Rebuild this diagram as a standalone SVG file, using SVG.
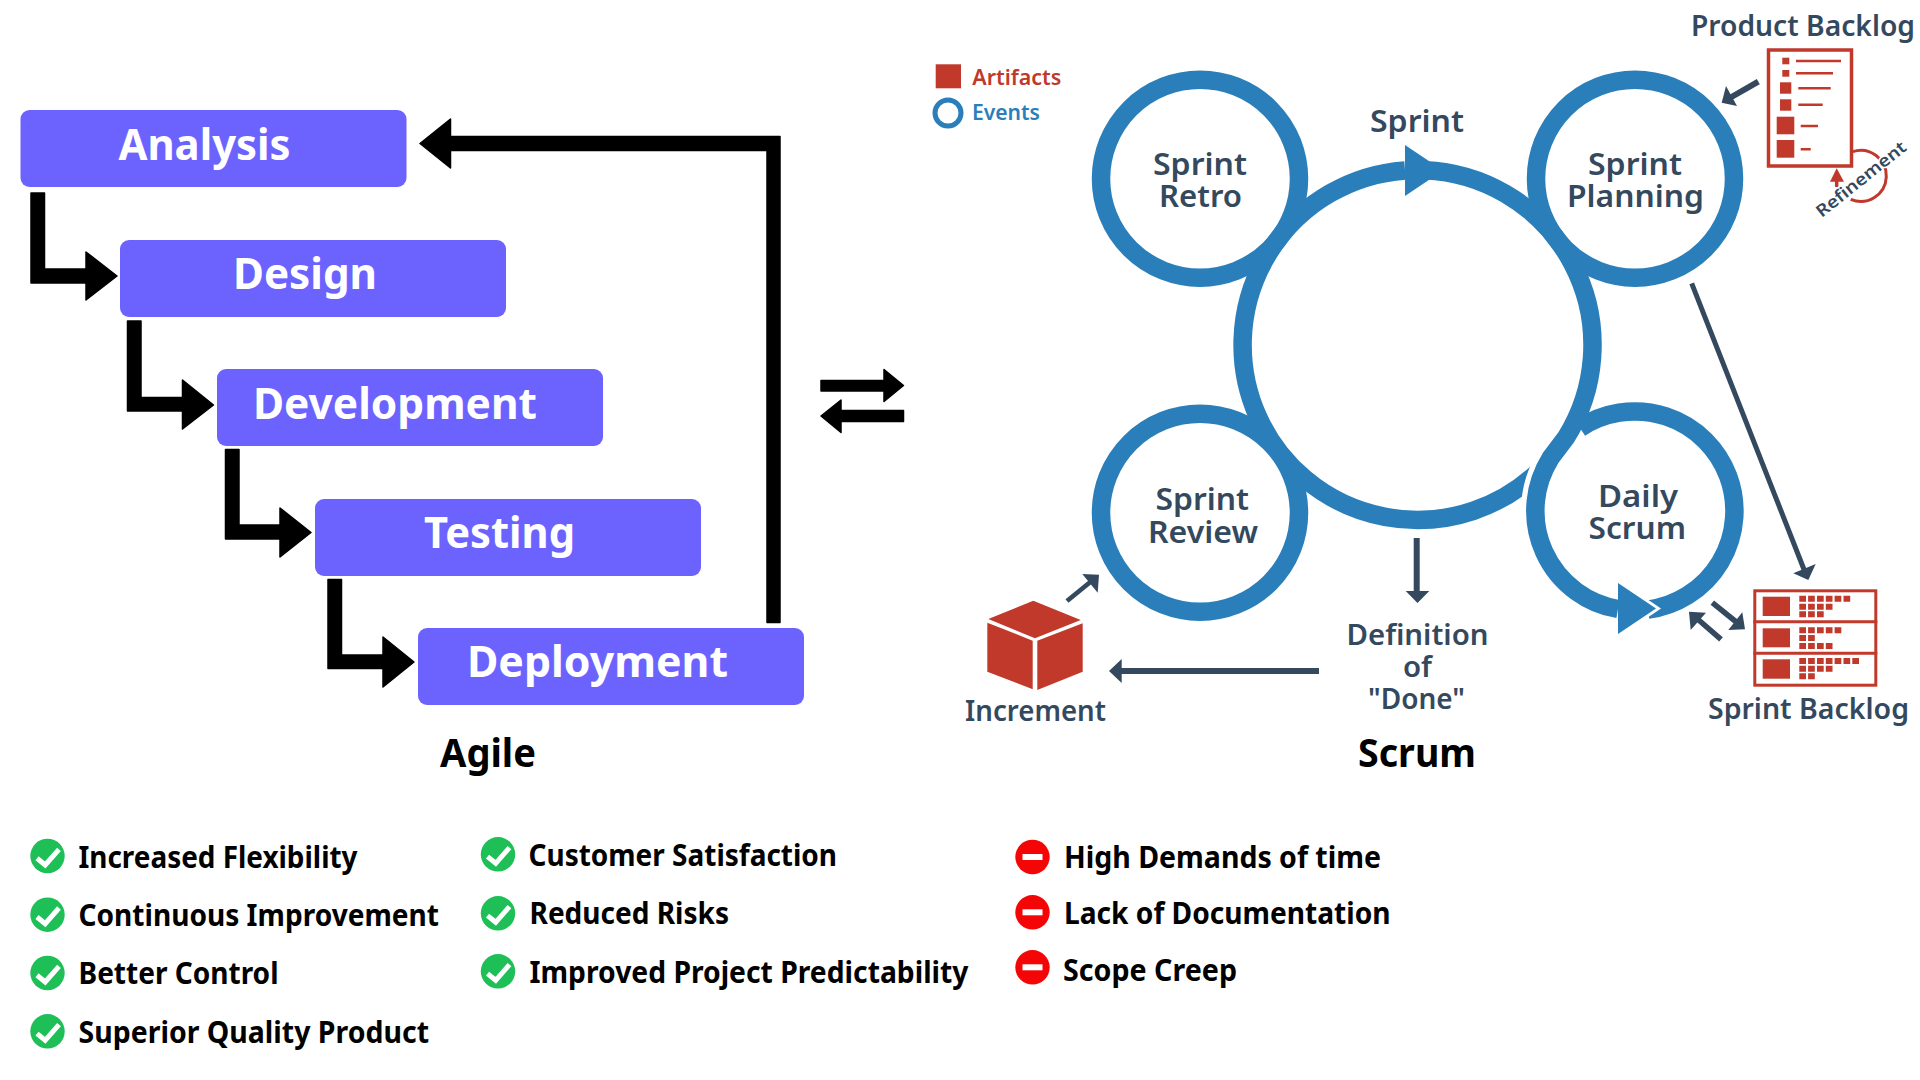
<svg xmlns="http://www.w3.org/2000/svg" xmlns:xlink="http://www.w3.org/1999/xlink" width="1920" height="1080" viewBox="0 0 1920 1080">
<style>
text{font-family:"Noto Sans","Open Sans","DejaVu Sans",sans-serif}
.box{fill:#6C63FF}
.bt{font-size:43px;font-weight:700;fill:#fff}
.ttl{font-size:40px;font-weight:700;fill:#000}
.li{font-size:30px;font-weight:700;fill:#000}
.sc{font-size:31px;font-weight:600;fill:#34495E}
.sm{font-size:28px;font-weight:600;fill:#34495E}
.ring{fill:none;stroke:#2A7FBA;stroke-width:18.5}
.cut{fill:none;stroke:#fff}
.blue{fill:#2A7FBA}
.blk{fill:#000;stroke:#000;stroke-width:1.5;stroke-linejoin:round}
.nv{stroke:#34495E;fill:none}
.nvh{fill:#34495E}
.red{fill:#C0392B}
.ol{fill:#fff;stroke:#C0392B}
.ln{stroke:#C0392B;stroke-width:2.5}
</style>
<defs>
<g id="ok"><circle r="17.2" fill="#1DBF56"/><path d="M-10.5,2.3 L-2.3,9 L11.5,-6.7" fill="none" stroke="#fff" stroke-width="5"/></g>
<g id="no"><circle r="17.2" fill="#F40606"/><rect x="-10" y="-3" width="20" height="6" fill="#fff"/></g>
</defs>
<rect width="1920" height="1080" fill="#fff"/>

<g id="connectors">
<path class="blk" d="M31,193H44.5V269H86V252L117,276L86,300V283H31Z"/>
<path class="blk" d="M127.5,321H141V397.5H182.5V380L213.5,405L182.5,429V411H127.5Z"/>
<path class="blk" d="M225.5,449.5H239V525H280V508L311,532.5L280,557V539H225.5Z"/>
<path class="blk" d="M328,579.5H341.5V655H383V637L414,662L383,687V668.5H328Z"/>
<path class="blk" d="M780,622.5H767V150.5H450.5V168L420,143.5L450.5,119V136.5H780Z"/>
<path class="blk" d="M821,380.5H884V369.5L903.5,385.5L884,401.5V391H821Z"/>
<path class="blk" d="M903.5,410.5H841V400L821,416L841,432.5V421.5H903.5Z"/>

<path class="ring" d="M1540,470A175,175 0 1 1 1405,170.4"/>
<path class="cut" stroke-width="12" d="M1542.7,455A108,108 0 0 0 1527,510"/>
<path class="cut" stroke-width="10" d="M1595,400A186,186 0 0 1 1574.3,445"/>
<path class="ring" d="M1648,609.6A99.5,99.5 0 1 0 1580,428"/>
<polygon points="1618,579.5 1661,608.5 1618,637.5" fill="#fff"/>
<polygon points="1405,141.5 1448,170.5 1405,199.5" fill="#fff"/>
<path class="ring" d="M1425,170.2A175,175 0 0 1 1566,437.6L1550.4,458.3A99.5,99.5 0 0 0 1618,609"/>
<polygon class="blue" points="1405,145 1443,170.5 1405,196"/>
<polygon class="blue" points="1618,583 1656,608.5 1618,634"/>

<path class="nv" stroke-width="4.7" d="M1067,601L1094,579"/>
<polygon class="nvh" points="1082.3,574 1099,574.7 1097.7,592.7"/>
<path class="nv" stroke-width="6" d="M1416.7,538V595"/>
<polygon class="nvh" points="1405.7,591 1429.3,591 1417.5,603"/>
<path class="nv" stroke-width="6" d="M1319,671H1118"/>
<polygon class="nvh" points="1121.7,659 1121.7,683 1109,671"/>
<path class="nv" stroke-width="6" d="M1758.3,81.7L1728,99"/>
<polygon class="nvh" points="1726,86 1737,106 1721.7,102.7"/>
<path class="nv" stroke-width="5" d="M1691.7,283.3L1805,572"/>
<polygon class="nvh" points="1793.3,573.3 1815.7,564 1808.3,580"/>
<path class="nv" stroke-width="5.5" d="M1712.3,602.7L1740,625"/>
<polygon class="nvh" points="1728.3,630 1742.3,612.3 1745,629.3"/>
<path class="nv" stroke-width="5.5" d="M1721,639.3L1694,616"/>
<polygon class="nvh" points="1706,612.7 1690.7,630 1689,611.7"/>
</g>

<g id="analysis"><rect class="box" x="20.5" y="110" width="386" height="77" rx="9"/><text class="bt" x="118.5" y="160" textLength="172" lengthAdjust="spacingAndGlyphs">Analysis</text></g>
<g id="design"><rect class="box" x="120" y="240" width="386" height="77" rx="9"/><text class="bt" x="233" y="289" textLength="144" lengthAdjust="spacingAndGlyphs">Design</text></g>
<g id="development"><rect class="box" x="217" y="369" width="386" height="77" rx="9"/><text class="bt" x="253" y="418.5" textLength="284" lengthAdjust="spacingAndGlyphs">Development</text></g>
<g id="testing"><rect class="box" x="315" y="499" width="386" height="77" rx="9"/><text class="bt" x="424" y="548" textLength="151" lengthAdjust="spacingAndGlyphs">Testing</text></g>
<g id="deployment"><rect class="box" x="418" y="628" width="386" height="77" rx="9"/><text class="bt" x="467" y="677" textLength="261" lengthAdjust="spacingAndGlyphs">Deployment</text></g>
<text id="agile-title" class="ttl" x="440" y="767" textLength="96" lengthAdjust="spacingAndGlyphs">Agile</text>
<text id="scrum-title" class="ttl" x="1358" y="767" textLength="118" lengthAdjust="spacingAndGlyphs">Scrum</text>

<g id="legend">
<rect class="red" x="935.7" y="64.3" width="25.3" height="24"/>
<text class="sm" style="fill:#C0392B;font-size:22px" x="972.3" y="85" textLength="89" lengthAdjust="spacingAndGlyphs">Artifacts</text>
<circle cx="948" cy="113" r="13" fill="none" stroke="#2A7FBA" stroke-width="5"/>
<text class="sm" style="fill:#2A7FBA;font-size:22px" x="972" y="120" textLength="68" lengthAdjust="spacingAndGlyphs">Events</text>
</g>

<g id="sprint-retro"><circle class="ring" cx="1200" cy="178.7" r="99"/><text class="sc" x="1153" y="175" textLength="94" lengthAdjust="spacingAndGlyphs">Sprint</text><text class="sc" x="1159" y="207" textLength="83" lengthAdjust="spacingAndGlyphs">Retro</text></g>
<g id="sprint-planning"><circle class="ring" cx="1635" cy="178.7" r="99"/><text class="sc" x="1588" y="175" textLength="94" lengthAdjust="spacingAndGlyphs">Sprint</text><text class="sc" x="1567" y="207" textLength="137" lengthAdjust="spacingAndGlyphs">Planning</text></g>
<g id="sprint-review"><circle class="ring" cx="1200" cy="512.7" r="99"/><text class="sc" x="1155.5" y="510" textLength="93.5" lengthAdjust="spacingAndGlyphs">Sprint</text><text class="sc" x="1148" y="542.7" textLength="110" lengthAdjust="spacingAndGlyphs">Review</text></g>
<g id="daily-scrum"><text class="sc" x="1598" y="507" textLength="80" lengthAdjust="spacingAndGlyphs">Daily</text><text class="sc" x="1588.5" y="539" textLength="97.5" lengthAdjust="spacingAndGlyphs">Scrum</text></g>
<text id="sprint-label" class="sc" x="1370" y="131.7" textLength="94" lengthAdjust="spacingAndGlyphs">Sprint</text>

<g id="product-backlog">
<text class="sm" x="1691" y="36" textLength="224" lengthAdjust="spacingAndGlyphs">Product Backlog</text>
<rect class="ol" x="1768.5" y="50" width="83" height="116" stroke-width="3.5"/>
<g class="red">
<rect x="1782.3" y="57.7" width="7" height="6.6"/><rect x="1782.3" y="70" width="7" height="6.7"/>
<rect x="1780" y="82.3" width="11.3" height="11.4"/><rect x="1780" y="99.3" width="11.3" height="11.4"/>
<rect x="1776.7" y="116.7" width="17.6" height="17.6"/><rect x="1776.7" y="140" width="17.6" height="17.7"/>
</g>
<path class="ln" d="M1796,61H1841M1796,73.3H1833M1798.3,88.3H1830.7M1798.3,104.7H1822.7M1800.7,126H1818M1800.7,149.3H1810.7"/>
<path d="M1852.7,151.7A25.5,25.5 0 1 1 1850.7,199.3" fill="none" stroke="#C0392B" stroke-width="3"/>
<path d="M1836.7,187V178" stroke="#C0392B" stroke-width="3.5"/>
<polygon class="red" points="1836.7,168.3 1844,181.7 1830,181.7"/>
<text class="sm" style="font-size:17px;stroke:#fff;stroke-width:3;paint-order:stroke" transform="translate(1821.7,218) rotate(-38.6)" textLength="110" lengthAdjust="spacingAndGlyphs">Refinement</text>
</g>

<g id="sprint-backlog">
<text class="sm" x="1708" y="719" textLength="201" lengthAdjust="spacingAndGlyphs">Sprint Backlog</text>
<rect class="ol" x="1754.8" y="590.8" width="121" height="94.4" stroke-width="3"/>
<path d="M1753.3,621.7H1877.3M1753.3,653.3H1877.3" stroke="#C0392B" stroke-width="3"/>
<g class="red">
<rect x="1762.7" y="596.7" width="27.3" height="19.3"/><rect x="1762.7" y="628.3" width="27.3" height="19"/><rect x="1762.7" y="659.3" width="27.3" height="19.4"/>
<path d="M1799.3,595.7h6.7v6h-6.7zM1808.1,595.7h6.7v6h-6.7zM1817,595.7h6.7v6h-6.7zM1825.8,595.7h6.7v6h-6.7zM1834.6,595.7h6.7v6h-6.7zM1843.5,595.7h6.7v6h-6.7z
M1799.3,603.7h6.7v6h-6.7zM1808.1,603.7h6.7v6h-6.7zM1817,603.7h6.7v6h-6.7zM1825.8,603.7h6.7v6h-6.7z
M1799.3,611.3h6.7v6h-6.7zM1808.1,611.3h6.7v6h-6.7zM1817,611.3h6.7v6h-6.7z
M1799.3,627.3h6.7v6h-6.7zM1808.1,627.3h6.7v6h-6.7zM1817,627.3h6.7v6h-6.7zM1825.8,627.3h6.7v6h-6.7zM1834.6,627.3h6.7v6h-6.7z
M1799.3,635h6.7v6h-6.7zM1808.1,635h6.7v6h-6.7z
M1799.3,643h6.7v6h-6.7zM1808.1,643h6.7v6h-6.7zM1817,643h6.7v6h-6.7zM1825.8,643h6.7v6h-6.7z
M1799.3,658h6.7v6h-6.7zM1808.1,658h6.7v6h-6.7zM1817,658h6.7v6h-6.7zM1825.8,658h6.7v6h-6.7zM1834.6,658h6.7v6h-6.7zM1843.5,658h6.7v6h-6.7zM1852.3,658h6.7v6h-6.7z
M1799.3,665.7h6.7v6h-6.7zM1808.1,665.7h6.7v6h-6.7zM1817,665.7h6.7v6h-6.7zM1825.8,665.7h6.7v6h-6.7z
M1799.3,673.3h6.7v6h-6.7zM1808.1,673.3h6.7v6h-6.7z"/>
</g>
</g>

<g id="increment">
<g class="red">
<polygon points="1033.3,600.7 1080.7,620 1035,638.3 988.3,619"/>
<polygon points="987.3,622.7 1032.7,640.7 1032.7,689.3 987.3,671.7"/>
<polygon points="1037.3,640.7 1082.7,623.3 1082.7,671.7 1037.3,690"/>
</g>
<text class="sm" x="965" y="720.7" textLength="141" lengthAdjust="spacingAndGlyphs">Increment</text>
</g>

<g id="definition-of-done">
<text class="sm" x="1346.5" y="645" textLength="142" lengthAdjust="spacingAndGlyphs">Definition</text>
<text class="sm" x="1403" y="677" textLength="29" lengthAdjust="spacingAndGlyphs">of</text>
<text class="sm" x="1368" y="709" textLength="97" lengthAdjust="spacingAndGlyphs">"Done"</text>
</g>

<g id="pros-1">
<use xlink:href="#ok" href="#ok" x="47.5" y="856"/><text class="li" x="78.5" y="868.3" textLength="279" lengthAdjust="spacingAndGlyphs">Increased Flexibility</text>
<use xlink:href="#ok" href="#ok" x="47.5" y="914.7"/><text class="li" x="78.5" y="925.5" textLength="360.5" lengthAdjust="spacingAndGlyphs">Continuous Improvement</text>
<use xlink:href="#ok" href="#ok" x="47.5" y="973"/><text class="li" x="78.5" y="984.3" textLength="200" lengthAdjust="spacingAndGlyphs">Better Control</text>
<use xlink:href="#ok" href="#ok" x="47.5" y="1031.3"/><text class="li" x="78.5" y="1042.7" textLength="350.5" lengthAdjust="spacingAndGlyphs">Superior Quality Product</text>
</g>
<g id="pros-2">
<use xlink:href="#ok" href="#ok" x="498" y="854.3"/><text class="li" x="528.5" y="866" textLength="308.5" lengthAdjust="spacingAndGlyphs">Customer Satisfaction</text>
<use xlink:href="#ok" href="#ok" x="498" y="913.3"/><text class="li" x="529.5" y="924" textLength="199.5" lengthAdjust="spacingAndGlyphs">Reduced Risks</text>
<use xlink:href="#ok" href="#ok" x="498" y="971.3"/><text class="li" x="529.5" y="982.7" textLength="439" lengthAdjust="spacingAndGlyphs">Improved Project Predictability</text>
</g>
<g id="cons">
<use xlink:href="#no" href="#no" x="1032.5" y="857"/><text class="li" x="1064" y="868.3" textLength="317" lengthAdjust="spacingAndGlyphs">High Demands of time</text>
<use xlink:href="#no" href="#no" x="1032.5" y="912.3"/><text class="li" x="1064" y="924.3" textLength="326.5" lengthAdjust="spacingAndGlyphs">Lack of Documentation</text>
<use xlink:href="#no" href="#no" x="1032.5" y="967.3"/><text class="li" x="1063" y="981" textLength="174" lengthAdjust="spacingAndGlyphs">Scope Creep</text>
</g>
</svg>
